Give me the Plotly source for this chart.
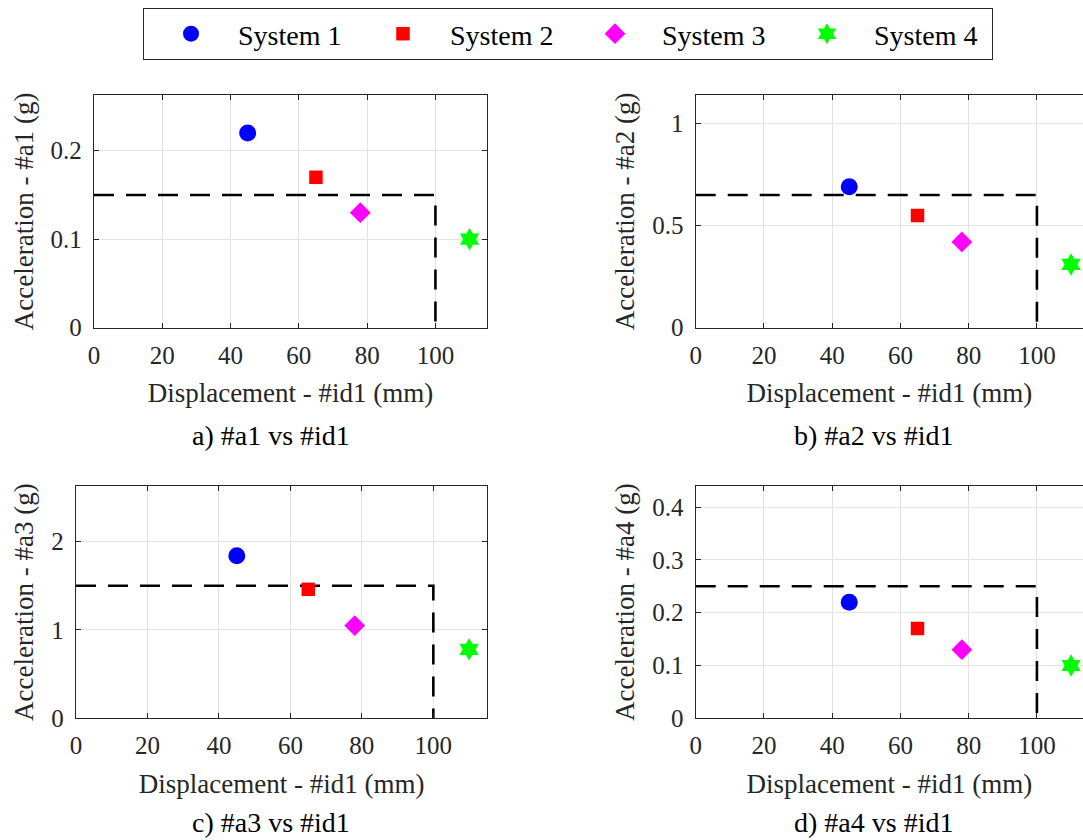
import plotly.graph_objects as go

# ---- data ----
systems = ["System 1", "System 2", "System 3", "System 4"]
colors = ["#0000ff", "#ff0000", "#ff00ff", "#00ff00"]
symbols = ["circle", "square", "diamond", "hexagram"]
sizes = [17, 13.5, 16, 17]

disp = [45, 65, 78, 110]
acc_a1 = [0.22, 0.17, 0.13, 0.10]
acc_a2 = [0.69, 0.55, 0.42, 0.31]
acc_a3 = [1.84, 1.46, 1.05, 0.78]
acc_a4 = [0.22, 0.17, 0.13, 0.10]

limit_x = 100
limit_a = [0.15, 0.65, 1.5, 0.25]

captions = ["a) #a1 vs #id1", "b) #a2 vs #id1", "c) #a3 vs #id1", "d) #a4 vs #id1"]
ytitles = ["Acceleration - #a1 (g)", "Acceleration - #a2 (g)",
           "Acceleration - #a3 (g)", "Acceleration - #a4 (g)"]
xtitle = "Displacement - #id1 (mm)"
yranges = [[0, 0.263], [0, 1.14], [0, 2.63], [0, 0.44]]
ydticks = [0.1, 0.5, 1, 0.1]
xranges = [[0, 115.1], [0, 113.5], [0, 115.1], [0, 113.5]]
xticks = [0, 20, 40, 60, 80, 100]

W, H = 1083, 840
FONT = "Liberation Serif, Times New Roman, serif"
AXC = "#262626"

# domains (pixels -> paper)
xdom_px = [(94, 487), (695.7, 1083), (76, 487.3), (695.7, 1083)]
ydom_px = [(95, 327.7), (95, 327.7), (486, 718.3), (486, 718.3)]

fig = go.Figure()
accs = [acc_a1, acc_a2, acc_a3, acc_a4]
for p in range(4):
    xa = "x" if p == 0 else f"x{p+1}"
    ya = "y" if p == 0 else f"y{p+1}"
    # limit box
    fig.add_trace(go.Scatter(
        x=[0, limit_x, limit_x], y=[limit_a[p], limit_a[p], 0],
        mode="lines", line=dict(color="black", width=2.6, dash="20px,12px"),
        showlegend=False, hoverinfo="skip", xaxis=xa, yaxis=ya))
    for i in range(4):
        fig.add_trace(go.Scatter(
            x=[disp[i]], y=[accs[p][i]], mode="markers", name=systems[i],
            marker=dict(color=colors[i], symbol=symbols[i], size=sizes[i],
                        line=dict(width=0)),
            showlegend=(p == 0), xaxis=xa, yaxis=ya, cliponaxis=(p % 2 == 1)))

layout = dict(
    width=W, height=H, margin=dict(l=0, r=0, t=0, b=0, autoexpand=False),
    paper_bgcolor="white", plot_bgcolor="white",
    font=dict(family=FONT, color=AXC, size=25),
    showlegend=True,
    legend=dict(orientation="h", x=568 / W, xanchor="center", y=1 - 8 / H, yanchor="top",
                bordercolor=AXC, borderwidth=1, font=dict(size=28, color="black"),
                itemwidth=84, entrywidth=113, itemsizing="trace", tracegroupgap=0,
                bgcolor="white"),
    annotations=[],
)

for p in range(4):
    xk = "xaxis" if p == 0 else f"xaxis{p+1}"
    yk = "yaxis" if p == 0 else f"yaxis{p+1}"
    ya = "y" if p == 0 else f"y{p+1}"
    xa = "x" if p == 0 else f"x{p+1}"
    x0, x1 = xdom_px[p]
    y0, y1 = ydom_px[p]
    right_cut = (p % 2 == 1)
    layout[xk] = dict(
        domain=[x0 / W, min(x1 / W, 1)], range=xranges[p], anchor=ya,
        tickmode="array", tickvals=xticks,
        showline=True, linecolor=AXC, linewidth=1.3, mirror="allticks",
        ticks="inside", ticklen=5, tickcolor=AXC, tickwidth=1.3,
        showgrid=True, gridcolor="#e3e3e3", gridwidth=1, zeroline=False,
        tickfont=dict(size=25, family=FONT, color=AXC), ticklabelstandoff=5,
        title=dict(text=xtitle, font=dict(size=27, family=FONT, color=AXC), standoff=15),
    )
    yr = yranges[p]
    n = int(yr[1] / ydticks[p] + 1e-9)
    tv = [round(k * ydticks[p], 3) for k in range(n + 1)]
    layout[yk] = dict(
        domain=[1 - y1 / H, 1 - y0 / H], range=yr, anchor=xa,
        tickmode="array", tickvals=tv, ticktext=[f"{v:g}" for v in tv],
        showline=True, linecolor=AXC, linewidth=1.3,
        mirror=False if right_cut else "allticks",
        ticks="inside", ticklen=5, tickcolor=AXC, tickwidth=1.3,
        showgrid=True, gridcolor="#e3e3e3", gridwidth=1, zeroline=False,
        tickfont=dict(size=25, family=FONT, color=AXC), ticklabelstandoff=6,
        title=dict(text=ytitles[p], font=dict(size=27, family=FONT, color=AXC), standoff=9),
    )
    cx = 271 if p % 2 == 0 else 873
    if p < 2:
        layout["annotations"].append(dict(
            text=captions[p], x=cx / W, y=1 - 435.5 / H, xref="paper", yref="paper",
            xanchor="center", yanchor="middle", showarrow=False,
            font=dict(size=28, family=FONT, color="black")))
    else:
        layout["annotations"].append(dict(
            text=captions[p], x=cx / W, y=0, xref="paper", yref="paper",
            xanchor="center", yanchor="bottom", showarrow=False,
            font=dict(size=28, family=FONT, color="black")))

fig.update_layout(**layout)
fig.write_html("out.html", config={"displayModeBar": False},
               post_script="document.body.style.margin='0';document.body.style.overflow='hidden';")
